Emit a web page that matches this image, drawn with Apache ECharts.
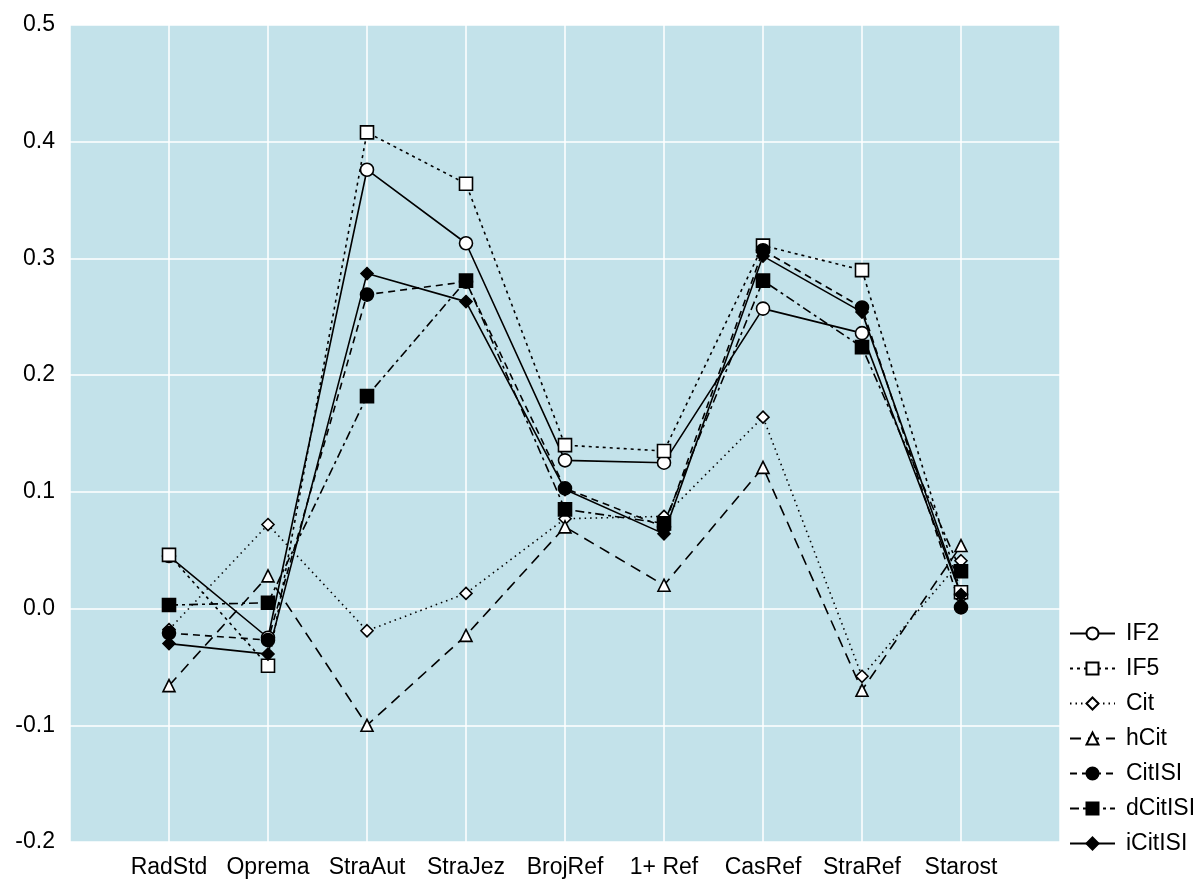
<!DOCTYPE html>
<html><head><meta charset="utf-8">
<script src="https://cdn.jsdelivr.net/npm/echarts@6/dist/echarts.min.js"></script>
<style>html,body{margin:0;padding:0;background:#fff}#c{width:1197px;height:884px}</style>
</head><body><div id="c"></div>
<script>
const categories = ['RadStd','Oprema','StraAut','StraJez','BrojRef','1+ Ref','CasRef','StraRef','Starost'];
const yTicks = [-0.2,-0.1,0.0,0.1,0.2,0.3,0.4,0.5];
const IF2     = [0.045, -0.025, 0.376, 0.313, 0.127, 0.125, 0.257, 0.236, 0.012];
const IF5     = [0.046, -0.049, 0.408, 0.364, 0.140, 0.135, 0.311, 0.290, 0.014];
const Cit     = [-0.018, 0.072, -0.019, 0.013, 0.077, 0.079, 0.164, -0.058, 0.041];
const hCit    = [-0.066, 0.028, -0.100, -0.023, 0.070, 0.020, 0.121, -0.070, 0.054];
const CitISI  = [-0.021, -0.027, 0.269, 0.280, 0.103, 0.070, 0.307, 0.258, 0.001];
const dCitISI = [0.003, 0.005, 0.182, 0.281, 0.085, 0.073, 0.281, 0.224, 0.032];
const iCitISI = [-0.030, -0.039, 0.287, 0.263, 0.102, 0.064, 0.302, 0.254, 0.012];

const FONT = '"Liberation Sans Narrow", "Liberation Sans", Arial, sans-serif';
function pts(arr){ return arr.map((v,i)=>[i+1, v]); }
function mk(name, arr, symbol, filled, dash, size){
  return {
    name, type:'line', data: pts(arr), symbol, symbolSize: size,
    showAllSymbol: true,
    lineStyle:{color:'#000', width:1.6, type: dash},
    itemStyle:{color: filled ? '#000' : '#fff', borderColor:'#000', borderWidth: 1.6},
    emphasis:{disabled:true}
  };
}
const series = [
  mk('IF2', IF2, 'circle', false, 'solid', 13),
  mk('IF5', IF5, 'rect', false, [3,4], 13),
  mk('Cit', Cit, 'diamond', false, [1.5,4], 12),
  mk('hCit', hCit, 'triangle', false, [11,7], 12),
  mk('CitISI', CitISI, 'circle', true, [7,5], 13),
  mk('dCitISI', dCitISI, 'rect', true, [9,4,3,4], 13),
  mk('iCitISI', iCitISI, 'diamond', true, 'solid', 12)
];
const chart = echarts.init(document.getElementById('c'), null, {renderer:'canvas'});
chart.setOption({
  animation:false,
  backgroundColor:'#fff',
  grid:{left:70, top:25, right:137, bottom:42, show:true, backgroundColor:'#c3e2ea', borderWidth:0, containLabel:false},
  xAxis:{type:'value', min:0, max:10, interval:1,
    axisLine:{show:false}, axisTick:{show:false},
    splitLine:{show:true, lineStyle:{color:'#fff', width:1.5}},
    axisLabel:{fontFamily:FONT, fontSize:23, color:'#000', margin:14,
      formatter:v=>categories[v-1]||''}},
  yAxis:{type:'value', min:yTicks[0], max:yTicks[yTicks.length-1], interval:0.1,
    axisLine:{show:false}, axisTick:{show:false},
    splitLine:{show:true, lineStyle:{color:'#fff', width:1.5}},
    axisLabel:{fontFamily:'"Liberation Sans", Arial, sans-serif', fontSize:23, color:'#000', margin:15,
      formatter:v=>(Math.round(v*10)/10).toFixed(1)}},
  legend:{orient:'vertical', left:1064, top:617, itemWidth:45, itemHeight:15, itemGap:12,
    textStyle:{fontFamily:FONT, fontSize:23, color:'#000', padding:[0,0,0,6]},
    data: series.map(s=>s.name)},
  series
});
</script></body></html>
